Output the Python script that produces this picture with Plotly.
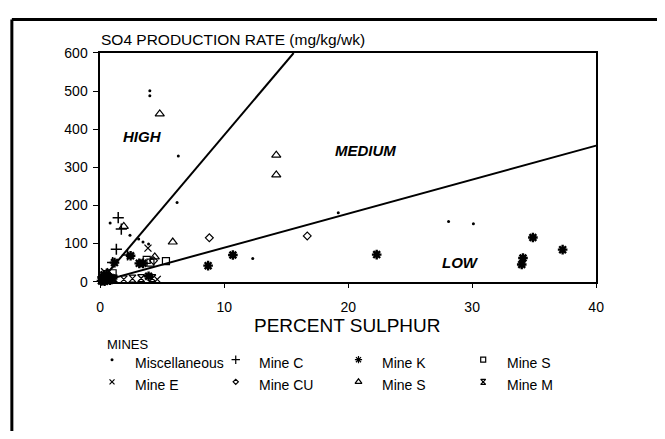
import plotly.graph_objects as go

# ---- data: percent sulphur vs SO4 production rate, by mine ----
misc_x = [4.0, 4.0, 6.3, 6.2, 0.8, 2.4, 3.1, 3.45, 3.9, 12.3, 19.2, 28.1, 30.1, 0.2, 0.6]
misc_y = [501, 488, 330, 208, 154, 122, 112, 104, 99, 61, 181, 158, 152, 2, 30]

mine_c_x = [1.45, 1.7, 1.3, 1.0, 2.2, 0.3, 0.5, 0.7]
mine_c_y = [168, 138, 85, 50, 70, 12, 20, 9]

mine_k_x = [1.15, 2.45, 3.15, 3.45, 3.9, 8.7, 10.7, 22.3, 34.9, 37.3, 34.1, 34.0,
            0.2, 0.4, 0.1, 0.6, 0.3, 0.5, 0.8, 0.15, 0.35, 1.0]
mine_k_y = [50, 68, 48, 48, 14, 42, 70, 71, 116, 84, 62, 45,
            5, 10, 2, 14, 18, 6, 4, 12, 1, 8]

mine_s_sq_x = [3.75, 4.05, 5.3, 1.0, 0.7, 0.3]
mine_s_sq_y = [57, 50, 54, 22, 8, 4]

mine_e_x = [0.35, 0.55, 3.85, 4.6, 0.9]
mine_e_y = [26, 16, 88, 6, 10]

mine_cu_x = [4.3, 8.8, 16.7, 0.45]
mine_cu_y = [55, 115, 120, 6]

mine_s_tri_x = [4.8, 14.2, 14.2, 5.85, 4.4, 1.9, 0.15, 0.8]
mine_s_tri_y = [440, 332, 280, 104, 65, 145, 6, 12]

mine_m_x = [1.9, 2.6, 3.3, 4.2, 0.2, 0.5, 1.1]
mine_m_y = [6, 8, 9, 9, 3, 4, 8]

# zone boundary lines
high_med_x = [0, 15.6]
high_med_y = [0, 600]
med_low_x = [0, 40]
med_low_y = [0, 357]

zone_names = ["HIGH", "MEDIUM", "LOW"]
zone_x = [3.4, 21.4, 29.1]
zone_y = [381, 343, 51]

x_ticks = [0, 10, 20, 30, 40]
y_ticks = [0, 100, 200, 300, 400, 500, 600]

FONT = "Liberation Sans"
W, H = 665, 439

# series: name, x, y, symbol, size, line width
series = [
    ("Miscellaneous", misc_x, misc_y, "circle", 3, 0),
    ("Mine C", mine_c_x, mine_c_y, "cross-thin-open", 8, 1.5),
    ("Mine K", mine_k_x, mine_k_y, "asterisk-open", 8, 2.4),
    ("Mine S", mine_s_sq_x, mine_s_sq_y, "square-open", 7, 1.2),
    ("Mine E", mine_e_x, mine_e_y, "x-thin-open", 7, 1.3),
    ("Mine CU", mine_cu_x, mine_cu_y, "diamond-open", 6, 1.2),
    ("Mine S", mine_s_tri_x, mine_s_tri_y, "triangle-up-open", 8, 1.2),
    ("Mine M", mine_m_x, mine_m_y, "hourglass-open", 7, 1.2),
]

fig = go.Figure()

fig.add_trace(go.Scatter(x=high_med_x, y=high_med_y, mode="lines",
                         line=dict(color="black", width=2), showlegend=False))
fig.add_trace(go.Scatter(x=med_low_x, y=med_low_y, mode="lines",
                         line=dict(color="black", width=2), showlegend=False))

for name, xs, ys, sym, size, lw in series:
    fig.add_trace(go.Scatter(
        x=xs, y=ys, mode="markers", name=name, showlegend=False, cliponaxis=False,
        marker=dict(symbol=sym, size=size, color="black",
                    line=dict(color="black", width=lw)),
    ))

# key below the chart, drawn on its own pixel-scaled axes
key_sym_x = [110, 236, 361, 488]
key_txt_x = [131, 258, 383, 510]
key_row_y = [368, 391]
for i, (name, _, _, sym, size, lw) in enumerate(series):
    r, c = divmod(i, 4)
    fig.add_trace(go.Scatter(
        x=[key_sym_x[c]], y=[key_row_y[r] - 3], mode="markers", xaxis="x2", yaxis="y2",
        showlegend=False, cliponaxis=False,
        marker=dict(symbol=sym, size=max(size - 2, 3), color="black",
                    line=dict(color="black", width=min(lw, 1.2))),
    ))
    fig.add_annotation(x=key_txt_x[c], y=key_row_y[r], xref="x2", yref="y2",
                       text=name, showarrow=False, xanchor="left", yanchor="middle",
                       font=dict(family=FONT, size=14, color="black"))
fig.add_annotation(x=103, y=349, xref="x2", yref="y2", text="MINES", showarrow=False,
                   xanchor="left", yanchor="middle",
                   font=dict(family=FONT, size=13, color="black"))

for name, zx, zy in zip(zone_names, zone_x, zone_y):
    fig.add_annotation(x=zx, y=zy, text=name, showarrow=False,
                       font=dict(family=FONT, size=15, color="black",
                                 weight="bold", style="italic"))

# axis captions
fig.add_annotation(x=97 / W, y=1 - 33 / H, xref="paper", yref="paper",
                   text="SO4 PRODUCTION RATE (mg/kg/wk)", showarrow=False,
                   xanchor="left", yanchor="middle",
                   font=dict(family=FONT, size=15.5, color="black"))
fig.add_annotation(x=350 / W, y=1 - 330 / H, xref="paper", yref="paper",
                   text="PERCENT SULPHUR", showarrow=False,
                   xanchor="center", yanchor="middle",
                   font=dict(family=FONT, size=19, color="black"))

# outer frame (top and left edges)
fig.add_shape(type="line", xref="paper", yref="paper", x0=8 / W, x1=1.0,
              y0=1 - 12 / H, y1=1 - 12 / H, line=dict(color="black", width=3))
fig.add_shape(type="line", xref="paper", yref="paper", x0=8 / W, x1=8 / W,
              y0=0, y1=1 - 12 / H, line=dict(color="black", width=3))

axis_style = dict(showgrid=False, zeroline=False, showline=True, mirror=True,
                  linecolor="black", linewidth=1.5, ticks="outside", ticklen=5,
                  tickcolor="black", tickwidth=1.2,
                  tickfont=dict(family=FONT, size=14, color="black"))

fig.update_layout(
    width=W, height=H,
    margin=dict(l=0, r=0, t=0, b=0),
    paper_bgcolor="white", plot_bgcolor="white",
    showlegend=False,
    xaxis=dict(domain=[98 / W, 603 / W], range=[0, 40], tickvals=x_ticks,
               ticklabelstandoff=7, **axis_style),
    yaxis=dict(domain=[1 - 284 / H, 1 - 46.7 / H], range=[0, 600], tickvals=y_ticks,
               ticklabelstandoff=3, **axis_style),
    xaxis2=dict(domain=[0, 1], range=[0, W], visible=False, anchor="y2"),
    yaxis2=dict(domain=[0, 1 - 300 / H], range=[H, 300], visible=False, anchor="x2"),
)

fig.write_html("out.html")
